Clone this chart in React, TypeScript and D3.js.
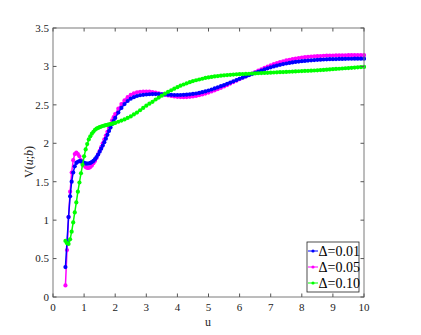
import React from "react";
import * as d3 from "d3";

const U = [0.4,0.45,0.5,0.55,0.6,0.65,0.7,0.75,0.8,0.85,0.9,0.95,1.0,1.05,1.1,1.15,1.2,1.25,1.3,1.35,1.4,1.45,1.5,1.55,1.6,1.65,1.7,1.75,1.8,1.85,1.9,1.95,2.0,
  2.1,2.2,2.3,2.4,2.5,2.6,2.7,2.8,2.9,3.0,3.1,3.2,3.3,3.4,3.5,3.6,3.7,3.8,3.9,4.0,4.1,4.2,4.3,4.4,4.5,4.6,4.7,4.8,4.9,5.0,5.1,5.2,5.3,5.4,5.5,5.6,5.7,5.8,5.9,6.0,6.1,6.2,6.3,6.4,6.5,6.6,6.7,6.8,6.9,7.0,7.1,7.2,7.3,7.4,7.5,7.6,7.7,7.8,7.9,8.0,8.1,8.2,8.3,8.4,8.5,8.6,8.7,8.8,8.9,9.0,9.1,9.2,9.3,9.4,9.5,9.6,9.7,9.8,9.9,10.0];

const V001 = [0.39,0.72,1.04,1.31,1.50,1.62,1.70,1.745,1.76,1.768,1.765,1.757,1.745,1.738,1.735,1.737,1.745,1.755,1.77,1.793,1.82,1.853,1.89,1.93,1.97,2.015,2.06,2.11,2.16,2.205,2.25,2.29,2.33,
  2.40,2.46,2.51,2.55,2.58,2.60,2.615,2.625,2.63,2.635,2.638,2.64,2.64,2.64,2.638,2.635,2.632,2.63,2.628,2.628,2.628,2.63,2.633,2.637,2.642,2.648,2.655,2.665,2.675,2.687,2.70,2.714,2.728,2.743,2.758,2.774,2.79,2.806,2.823,2.84,2.855,2.87,2.885,2.90,2.915,2.93,2.946,2.961,2.975,2.988,3.0,3.011,3.021,3.03,3.038,3.045,3.052,3.058,3.063,3.068,3.072,3.076,3.08,3.083,3.086,3.088,3.09,3.092,3.094,3.095,3.096,3.097,3.098,3.099,3.10,3.10,3.101,3.101,3.101,3.101];

const V005 = [0.15,0.61,1.04,1.37,1.62,1.78,1.86,1.88,1.86,1.83,1.78,1.74,1.71,1.69,1.68,1.68,1.69,1.71,1.74,1.77,1.81,1.855,1.90,1.95,2.00,2.05,2.10,2.15,2.20,2.25,2.30,2.34,2.38,
  2.45,2.51,2.56,2.60,2.63,2.65,2.663,2.67,2.674,2.674,2.671,2.666,2.658,2.649,2.64,2.631,2.622,2.615,2.609,2.604,2.601,2.60,2.601,2.604,2.609,2.616,2.625,2.635,2.647,2.66,2.674,2.689,2.705,2.722,2.74,2.758,2.777,2.796,2.815,2.835,2.853,2.871,2.889,2.907,2.926,2.945,2.963,2.981,2.998,3.014,3.029,3.043,3.056,3.067,3.078,3.087,3.095,3.103,3.109,3.115,3.12,3.124,3.128,3.131,3.134,3.136,3.138,3.14,3.141,3.142,3.143,3.144,3.145,3.145,3.146,3.146,3.146,3.146,3.146,3.146];

const V010 = [0.73,0.70,0.69,0.75,0.85,0.97,1.10,1.23,1.37,1.49,1.61,1.72,1.83,1.92,1.99,2.05,2.09,2.125,2.15,2.175,2.19,2.20,2.21,2.218,2.225,2.23,2.235,2.24,2.245,2.25,2.255,2.26,2.265,
  2.28,2.295,2.31,2.33,2.35,2.375,2.40,2.43,2.46,2.49,2.515,2.54,2.57,2.595,2.62,2.645,2.67,2.69,2.71,2.73,2.75,2.765,2.78,2.795,2.81,2.82,2.83,2.84,2.85,2.857,2.864,2.87,2.875,2.88,2.884,2.888,2.891,2.894,2.897,2.899,2.901,2.903,2.905,2.907,2.909,2.911,2.913,2.915,2.917,2.919,2.921,2.923,2.925,2.927,2.929,2.931,2.933,2.935,2.937,2.939,2.941,2.943,2.945,2.947,2.949,2.952,2.955,2.958,2.961,2.964,2.967,2.97,2.973,2.976,2.979,2.982,2.985,2.988,2.991,2.994];

const X_TICKS = [0,1,2,3,4,5,6,7,8,9,10];
const Y_TICKS = [0,0.5,1,1.5,2,2.5,3,3.5];
const SERIES_LABELS = ["Δ=0.01","Δ=0.05","Δ=0.10"];
const SERIES_COLORS = ["#0000ff","#ff00ff","#00ff00"];

const W = 421, H = 335;
const L = 53, R = 364, T = 28, B = 297;

export default function App() {
  const x = d3.scaleLinear().domain([0, 10]).range([L, R]);
  const y = d3.scaleLinear().domain([0, 3.5]).range([B, T]);
  const series = [V001, V005, V010];
  const drawOrder = [1, 0, 2];
  const line = d3.line<[number, number]>().x(d => x(d[0])).y(d => y(d[1]));
  const font = "'Liberation Serif', 'Times New Roman', serif";
  const legendYs = [251, 267, 283];
  return (
    <svg width={W} height={H} style={{ position: "absolute", left: 0, top: 0, background: "#fff" }}>
      <rect x={0} y={0} width={W} height={H} fill="#fff" />
      <defs>
        <clipPath id="clip"><rect x={L} y={T - 2} width={R - L + 2} height={B - T + 2} /></clipPath>
      </defs>
      <g clipPath="url(#clip)">
        {drawOrder.map(si => {
          const pts: [number, number][] = U.map((u, i) => [u, series[si][i]]);
          return (
            <g key={si}>
              <path d={line(pts) || ""} fill="none" stroke={SERIES_COLORS[si]} strokeWidth={1.5} />
              {pts.map((p, i) => (
                <circle key={i} cx={x(p[0])} cy={y(p[1])} r={2.1} fill={SERIES_COLORS[si]} />
              ))}
            </g>
          );
        })}
      </g>
      <rect x={L} y={T} width={R - L} height={B - T} fill="none" stroke="#7a7a7a" strokeWidth={1} />
      {X_TICKS.map(t => (
        <g key={"x" + t}>
          <line x1={x(t)} x2={x(t)} y1={B} y2={B - 3.5} stroke="#555" />
          <line x1={x(t)} x2={x(t)} y1={T} y2={T + 3.5} stroke="#555" />
          <text x={x(t)} y={311} textAnchor="middle" fontFamily={font} fontSize={11} fill="#222">{t}</text>
        </g>
      ))}
      {Y_TICKS.map(t => (
        <g key={"y" + t}>
          <line x1={L} x2={L + 3.5} y1={y(t)} y2={y(t)} stroke="#555" />
          <line x1={R} x2={R - 3.5} y1={y(t)} y2={y(t)} stroke="#555" />
          <text x={49} y={y(t) + 3.8} textAnchor="end" fontFamily={font} fontSize={11} fill="#222">{t}</text>
        </g>
      ))}
      <text x={208} y={326} textAnchor="middle" fontFamily={font} fontSize={12} fill="#222">u</text>
      <text transform="translate(33,162) rotate(-90)" textAnchor="middle" fontFamily={font} fontSize={12} fill="#222">
        V(<tspan fontStyle="italic">u</tspan>;<tspan fontStyle="italic">b</tspan>)
      </text>
      <rect x={307} y={242} width={52} height={50} fill="#fff" stroke="#222" strokeWidth={0.8} />
      {SERIES_LABELS.map((lab, i) => (
        <g key={lab}>
          <line x1={308} x2={318} y1={legendYs[i]} y2={legendYs[i]} stroke={SERIES_COLORS[i]} strokeWidth={1} />
          <circle cx={313} cy={legendYs[i]} r={1.6} fill={SERIES_COLORS[i]} />
          <text x={318.5} y={legendYs[i] + 5} fontFamily={font} fontSize={14} fill="#000">{lab}</text>
        </g>
      ))}
    </svg>
  );
}
